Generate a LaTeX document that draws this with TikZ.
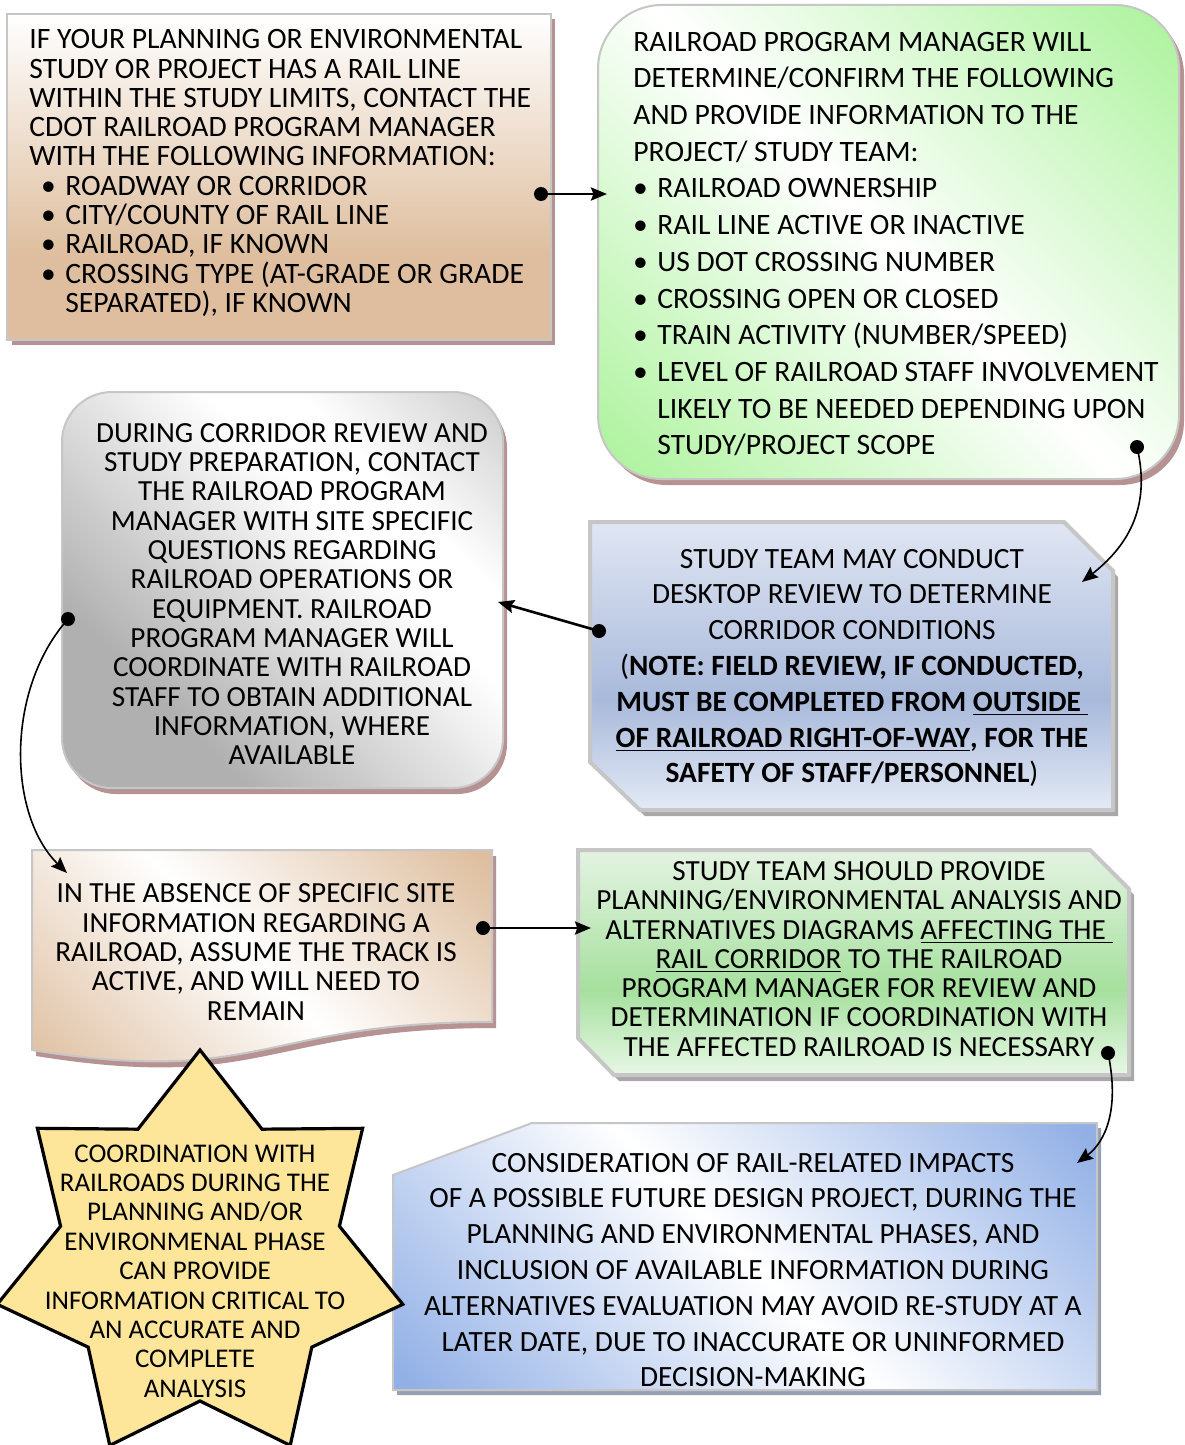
\documentclass[tikz,border=0pt]{standalone}
\usepackage{fontspec}
\setmainfont{Carlito}
\usetikzlibrary{arrows.meta}

% fill colours
\definecolor{tanC}{RGB}{222,190,158}
\definecolor{greenC}{RGB}{174,243,158}
\definecolor{grayC}{RGB}{176,176,176}
\definecolor{blueC}{RGB}{146,176,230}
\definecolor{blueTop}{RGB}{224,230,243}
\definecolor{blueMid}{RGB}{168,185,218}
\definecolor{blueBot}{RGB}{228,234,246}
\definecolor{greenTop}{RGB}{228,243,226}
\definecolor{greenMid}{RGB}{166,224,158}
\definecolor{greenBot}{RGB}{232,247,230}
\definecolor{starC}{RGB}{253,229,153}
% outlines and shadows
\definecolor{edgeC}{RGB}{198,198,198}
\definecolor{mauveS}{RGB}{182,146,146}
\definecolor{grayS}{RGB}{168,168,168}
\definecolor{blueS}{RGB}{150,160,180}

% gradients
\pgfdeclareverticalshading{tanfade}{100bp}{color(0bp)=(tanC); color(38bp)=(tanC); color(75bp)=(white); color(100bp)=(white)}
\pgfdeclareverticalshading{bluebar}{100bp}{color(0bp)=(blueBot); color(25bp)=(blueBot); color(44bp)=(blueMid); color(75bp)=(blueTop); color(100bp)=(blueTop)}
\pgfdeclareverticalshading{greenbar}{100bp}{color(0bp)=(greenBot); color(25bp)=(greenBot); color(44bp)=(greenMid); color(75bp)=(greenTop); color(100bp)=(greenTop)}
\pgfdeclarehorizontalshading{diaggreen}{100bp}{color(0bp)=(greenC); color(16bp)=(greenC); color(50bp)=(white); color(84bp)=(greenC); color(100bp)=(greenC)}
\pgfdeclarehorizontalshading{diaggray}{100bp}{color(0bp)=(grayC); color(30bp)=(grayC); color(60bp)=(white); color(68bp)=(white); color(95bp)=(grayC); color(100bp)=(grayC)}
\pgfdeclarehorizontalshading{diagtan}{100bp}{color(0bp)=(tanC); color(16bp)=(tanC); color(50bp)=(white); color(84bp)=(tanC); color(100bp)=(tanC)}
\pgfdeclarehorizontalshading{diagblue}{100bp}{color(0bp)=(blueC); color(16bp)=(blueC); color(50bp)=(white); color(84bp)=(blueC); color(100bp)=(blueC)}

\newcommand{\fsA}{\fontsize{14.6pt}{14.65pt}\selectfont}
\newcommand{\fsAA}{\fontsize{14.8pt}{14.65pt}\selectfont}
\newcommand{\fsB}{\fontsize{14.8pt}{18.35pt}\selectfont}
\newcommand{\fsC}{\fontsize{14.7pt}{17.9pt}\selectfont}
\newcommand{\fsS}{\fontsize{13.5pt}{14.7pt}\selectfont}
\newcommand{\bulA}{\hspace*{5pt}\makebox[9pt][c]{•}\hspace*{4pt}}
\newcommand{\bulB}{\makebox[7pt][c]{•}\hspace*{5pt}}

\begin{document}
\begin{tikzpicture}[x=0.5pt,y=-0.5pt,
  txt/.style={inner sep=0pt, text=black},
  conn/.style={line width=1.3pt, -{Stealth[length=8pt,width=6.5pt,inset=1.2pt]}},
  thinconn/.style={line width=0.8pt, -{Stealth[length=8pt,width=6.5pt,inset=1.2pt]}},
  box/.style={draw=edgeC, line width=1pt},
  heavybox/.style={draw=edgeC, line width=2pt},
  dotr/.style={fill=black}]
\useasboundingbox (0,0) rectangle (1184,1445);
\fill[white] (0,0) rectangle (1184,1445);

% --- first request box
\fill[mauveS] (12,19) rectangle (555,345);
\shadedraw[box, shading=tanfade] (7,14) rectangle (551,340);

% --- program manager reply
\fill[mauveS, rounded corners=32pt] (603,11) rectangle (1184,485);
\shadedraw[box, rounded corners=32pt, shading=diaggreen, shading angle=45] (598,5) rectangle (1179,479);

% --- desktop review
\fill[grayS, shift={(5,6)}] (590,522) -- (1064,522) -- (1113,571) -- (1113,810) -- (640,810) -- (590,762) -- cycle;
\shadedraw[heavybox, shading=bluebar] (590,522) -- (1064,522) -- (1113,571) -- (1113,810) -- (640,810) -- (590,762) -- cycle;

% --- corridor review
\fill[mauveS, rounded corners=25pt] (66,398) rectangle (507,794);
\shadedraw[box, rounded corners=25pt, shading=diaggray, shading angle=45] (62,392) rectangle (503,788);

% --- assumption document
\fill[mauveS, shift={(4,6)}] (32,850) -- (492,850) -- (492,1022) .. controls (262,1022) and (262,1087) .. (32,1050) -- cycle;
\shadedraw[box, shading=diagtan, shading angle=45] (32,850) -- (492,850) -- (492,1022) .. controls (262,1022) and (262,1087) .. (32,1050) -- cycle;

% --- analysis submittal
\fill[grayS, shift={(5,6)}] (578,850) -- (1090,850) -- (1129,889) -- (1129,1075) -- (614,1075) -- (578,1038) -- cycle;
\shadedraw[heavybox, shading=greenbar] (578,850) -- (1090,850) -- (1129,889) -- (1129,1075) -- (614,1075) -- (578,1038) -- cycle;

% --- consideration box
\fill[blueS, shift={(4,5)}] (393,1175) -- (532,1123) -- (1097,1123) -- (1097,1390) -- (393,1390) -- cycle;
\shadedraw[box, shading=diagblue, shading angle=45] (393,1175) -- (532,1123) -- (1097,1123) -- (1097,1390) -- (393,1390) -- cycle;

% --- seven-point star
\filldraw[fill=starC, draw=black, line width=1.6pt, line join=miter, shift={(200,1258)}]
  (-90:208) \foreach \i in {0,...,6} { -- ({-90+(\i+0.5)*360/7}:143) -- ({-90+(\i+1)*360/7}:208) } -- cycle;

% --- texts
\node[txt, anchor=west, align=left, font=\fsAA] (t1) at (29,173) {%
IF YOUR PLANNING OR ENVIRONMENTAL\\
STUDY OR PROJECT HAS A RAIL LINE\\
WITHIN THE STUDY LIMITS, CONTACT THE\\
CDOT RAILROAD PROGRAM MANAGER\\
WITH THE FOLLOWING INFORMATION:\\
\bulA ROADWAY OR CORRIDOR\\
\bulA CITY/COUNTY OF RAIL LINE\\
\bulA RAILROAD, IF KNOWN\\
\bulA CROSSING TYPE (AT-GRADE OR GRADE\\
\hspace*{18pt}SEPARATED), IF KNOWN};

\node[txt, anchor=west, align=left, font=\fsB] (t2) at (633,244) {%
RAILROAD PROGRAM MANAGER WILL\\
DETERMINE/CONFIRM THE FOLLOWING\\
AND PROVIDE INFORMATION TO THE\\
PROJECT/ STUDY TEAM:\\
\bulB RAILROAD OWNERSHIP\\
\bulB RAIL LINE ACTIVE OR INACTIVE\\
\bulB US DOT CROSSING NUMBER\\
\bulB CROSSING OPEN OR CLOSED\\
\bulB TRAIN ACTIVITY (NUMBER/SPEED)\\
\bulB LEVEL OF RAILROAD STAFF INVOLVEMENT\\
\hspace*{12pt}LIKELY TO BE NEEDED DEPENDING UPON\\
\hspace*{12pt}STUDY/PROJECT SCOPE};

\node[txt, align=center, font=\fsC] (t3) at (852,668) {%
STUDY TEAM MAY CONDUCT\\
DESKTOP REVIEW TO DETERMINE\\
CORRIDOR CONDITIONS\\
(\textbf{NOTE: FIELD REVIEW, IF CONDUCTED,}\\
\textbf{MUST BE COMPLETED FROM \underline{OUTSIDE\ }}\\
\textbf{\underline{OF RAILROAD RIGHT-OF-WAY}, FOR THE}\\
\textbf{SAFETY OF STAFF/PERSONNEL})};

\node[txt, align=center, font=\fsA] (t4) at (292,594) {%
DURING CORRIDOR REVIEW AND\\
STUDY PREPARATION, CONTACT\\
THE RAILROAD PROGRAM\\
MANAGER WITH SITE SPECIFIC\\
QUESTIONS REGARDING\\
RAILROAD OPERATIONS OR\\
EQUIPMENT. RAILROAD\\
PROGRAM MANAGER WILL\\
COORDINATE WITH RAILROAD\\
STAFF TO OBTAIN ADDITIONAL\\
INFORMATION, WHERE\\
AVAILABLE};

\node[txt, align=center, font=\fsA] (t5) at (256,952) {%
IN THE ABSENCE OF SPECIFIC SITE\\
INFORMATION REGARDING A\\
RAILROAD, ASSUME THE TRACK IS\\
ACTIVE, AND WILL NEED TO\\
REMAIN};

\node[txt, align=center, font=\fsA] (t6) at (859,959) {%
STUDY TEAM SHOULD PROVIDE\\
PLANNING/ENVIRONMENTAL ANALYSIS AND\\
ALTERNATIVES DIAGRAMS \underline{AFFECTING THE\ }\\
\underline{RAIL CORRIDOR} TO THE RAILROAD\\
PROGRAM MANAGER FOR REVIEW AND\\
DETERMINATION IF COORDINATION WITH\\
THE AFFECTED RAILROAD IS NECESSARY};

\node[txt, align=center, font=\fsC] (t7) at (753,1270) {%
CONSIDERATION OF RAIL-RELATED IMPACTS\\
OF A POSSIBLE FUTURE DESIGN PROJECT, DURING THE\\
PLANNING AND ENVIRONMENTAL PHASES, AND\\
INCLUSION OF AVAILABLE INFORMATION DURING\\
ALTERNATIVES EVALUATION MAY AVOID RE-STUDY AT A\\
LATER DATE, DUE TO INACCURATE OR UNINFORMED\\
DECISION-MAKING};

\node[txt, align=center, font=\fsS] (t8) at (195,1271) {%
COORDINATION WITH\\
RAILROADS DURING THE\\
PLANNING AND/OR\\
ENVIRONMENAL PHASE\\
CAN PROVIDE\\
INFORMATION CRITICAL TO\\
AN ACCURATE AND\\
COMPLETE\\
ANALYSIS};

% --- connector ends
\coordinate (s1) at (541,194);  \coordinate (e1) at (607,194);
\coordinate (s2) at (1137,447); \coordinate (e2) at (1082,582);
\coordinate (s3) at (599,631);  \coordinate (e3) at (498,602);
\coordinate (s4) at (68,619);   \coordinate (e4) at (67,873);
\coordinate (s5) at (483,928);  \coordinate (e5) at (591,928);
\coordinate (s6) at (1108,1053);\coordinate (e6) at (1077,1163);

% --- connectors
\draw[conn] (s1) -- (e1);
\draw[thinconn] (s2) .. controls (1152,510) and (1125,548) .. (e2);
\draw[conn] (s3) -- (e3);
\draw[thinconn] (s4) .. controls (5,690) and (8,815) .. (e4);
\draw[conn] (s5) -- (e5);
\draw[thinconn] (s6) .. controls (1120,1110) and (1105,1142) .. (e6);
\foreach \p in {s1,s2,s3,s4,s5,s6} { \fill[dotr] (\p) circle (3.5pt); }
\end{tikzpicture}
\end{document}
